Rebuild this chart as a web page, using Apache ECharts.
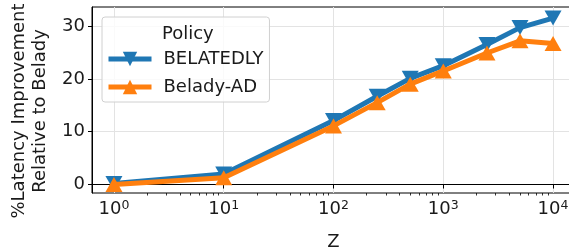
<!DOCTYPE html>
<html>
<head>
<meta charset="utf-8">
<script src="https://cdn.jsdelivr.net/npm/echarts@6/dist/echarts.min.js"></script>
<style>
  html, body { margin: 0; padding: 0; background: #fff; }
  #main { width: 569px; height: 250px; }
</style>
</head>
<body>
<div id="main"></div>
<script>
// values
var zValues = [1, 10, 100, 250, 500, 1000, 2500, 5000, 10000];
var belatedly = [0.2, 2.0, 12.1, 16.7, 20.1, 22.5, 26.5, 29.7, 31.5];
var beladyAd = [0, 1.3, 11.1, 15.5, 19.0, 21.5, 24.9, 27.2, 26.7];

var xMajor = [1, 10, 100, 1000, 10000];
var xMinor = [2, 3, 4, 5, 6, 7, 8, 9, 20, 30, 40, 50, 60, 70, 80, 90,
  200, 300, 400, 500, 600, 700, 800, 900, 2000, 3000, 4000, 5000, 6000, 7000, 8000, 9000];
var yTicks = [0, 10, 20, 30];

var font = 'DejaVu Sans';
var fs = 18;

function pairs(ys) {
  return zValues.map(function (z, i) { return [z, ys[i]]; });
}

var chart = echarts.init(document.getElementById('main'));

var xMin = Math.pow(10, -0.2);
var xMax = Math.pow(10, 4.2);

chart.setOption({
  animation: false,
  textStyle: { fontFamily: font },
  title: {
    text: 'Policy',
    left: 157, top: 20,
    textStyle: { fontFamily: font, fontSize: fs, fontWeight: 'normal', color: '#1a1a1a' }
  },
  legend: {
    orient: 'vertical',
    left: 102, top: 17,
    padding: [33, 6, 6, 4],
    itemGap: 10,
    itemWidth: 43,
    itemHeight: 18,
    borderColor: '#d0d0d0',
    borderWidth: 1,
    borderRadius: 3,
    backgroundColor: 'rgba(255,255,255,0.8)',
    lineStyle: { width: 5 },
    textStyle: { fontFamily: font, fontSize: fs, color: '#1a1a1a', padding: [0, 0, 0, 7] },
    data: ['BELATEDLY', 'Belady-AD']
  },
  grid: {
    left: 92, top: 7, width: 483, height: 186,
    outerBoundsMode: 'none',
    containLabel: false,
    show: true, borderColor: '#000', borderWidth: 1
  },
  xAxis: [{
    type: 'log',
    logBase: 10,
    min: xMin, max: xMax,
    name: 'Z',
    nameLocation: 'middle',
    nameGap: 40,
    nameTextStyle: { fontFamily: font, fontSize: fs, color: '#1a1a1a' },
    axisLine: { show: true, lineStyle: { color: '#000', width: 1 } },
    axisTick: { show: true, customValues: xMajor, length: 4, lineStyle: { color: '#000' } },
    axisLabel: {
      customValues: xMajor,
      margin: 6,
      color: '#1a1a1a',
      fontFamily: font,
      fontSize: fs,
      formatter: function (v) {
        return '10{s|' + Math.round(Math.log10(v)) + '}';
      },
      rich: {
        s: { fontSize: 12.5, fontFamily: font, color: '#1a1a1a', verticalAlign: 'top', padding: [0, 0, 8, 0] }
      }
    },
    splitLine: { show: true, customValues: xMajor, lineStyle: { color: '#e3e3e3', width: 1 } }
  }, {
    type: 'log',
    logBase: 10,
    min: xMin, max: xMax,
    position: 'bottom',
    gridIndex: 0,
    axisLine: { show: false },
    axisTick: { show: true, customValues: xMinor, length: 2.5, lineStyle: { color: '#000', width: 0.8 } },
    axisLabel: { show: false },
    splitLine: { show: false }
  }],
  yAxis: {
    type: 'value',
    min: -1.6, max: 33.6,
    name: '%Latency Improvement\nRelative to Belady',
    nameLocation: 'middle',
    nameGap: 35,
    nameTextStyle: { fontFamily: font, fontSize: fs, color: '#1a1a1a', lineHeight: 21, padding: [0, 22, 0, 0] },
    axisLine: { show: true, lineStyle: { color: '#000', width: 1 } },
    axisTick: { show: true, customValues: yTicks, length: 4, lineStyle: { color: '#000' } },
    axisLabel: { customValues: yTicks, margin: 7, color: '#1a1a1a', fontFamily: font, fontSize: fs },
    splitLine: { show: true, customValues: yTicks, lineStyle: { color: '#e3e3e3', width: 1 } }
  },
  series: [{
    name: 'BELATEDLY',
    type: 'line',
    xAxisIndex: 0,
    data: pairs(belatedly),
    color: '#1f77b4',
    lineStyle: { width: 5, color: '#1f77b4' },
    symbol: 'triangle',
    symbolRotate: 180,
    symbolSize: [17, 15],
    showAllSymbol: true,
    itemStyle: { color: '#1f77b4', opacity: 1 },
    z: 2
  }, {
    name: 'Belady-AD',
    type: 'line',
    xAxisIndex: 0,
    data: pairs(beladyAd),
    color: '#ff7f0e',
    lineStyle: { width: 5, color: '#ff7f0e' },
    symbol: 'triangle',
    symbolSize: [17, 15],
    showAllSymbol: true,
    itemStyle: { color: '#ff7f0e', opacity: 1 },
    z: 3
  }]
});
</script>
</body>
</html>
